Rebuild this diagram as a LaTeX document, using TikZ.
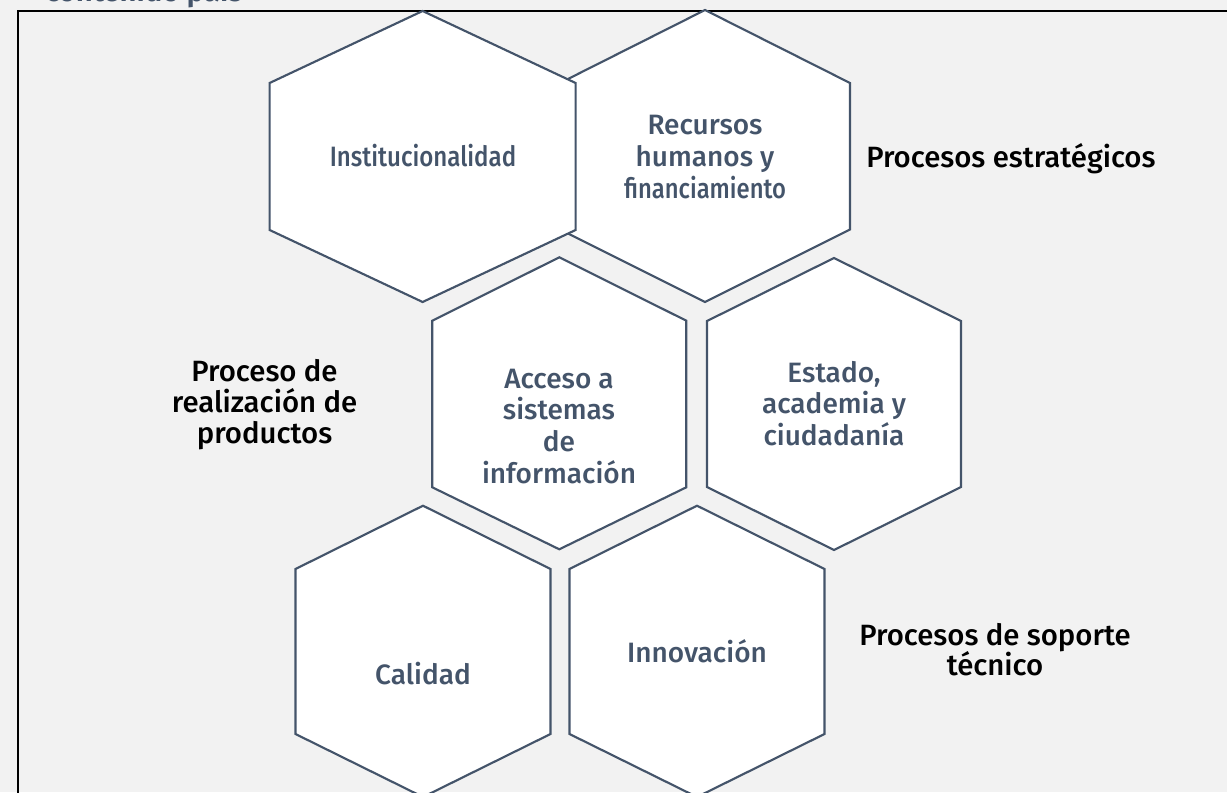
\documentclass[tikz,border=0pt]{standalone}
\usepackage{fontspec}
\setmainfont{Fira Sans}[UprightFont=* Medium, BoldFont=* SemiBold]
\usepackage{xcolor}
\usepackage{tikz}
\usetikzlibrary{positioning}
\definecolor{slate}{HTML}{44546A}
\definecolor{panel}{HTML}{F2F2F2}

\begin{document}
\begin{tikzpicture}[x=0.75pt, y=-0.75pt,
    cell/.style={draw=slate, fill=white, line width=1.6pt, line join=miter},
    celltext/.style={text=slate, align=center, inner sep=0pt, anchor=base, font=\fontsize{21}{23.8}\selectfont},
    side/.style={text=black, align=center, inner sep=0pt, anchor=base, font=\fontsize{22}{23}\selectfont}]
    \useasboundingbox (0,0) rectangle (1227,792);
    \fill[panel] (0,0) rectangle (1227,792);
    \clip (0,0) rectangle (1227,792);

    % Title and frame
    \node [anchor=base west, inner sep=0pt, text=slate, font=\bfseries\fontsize{22}{24}\selectfont] (title) at (45,1.5) {contenido país};
    \draw [line width=1.5pt] (18,10.7) rectangle (1240,800);

    % Strategic processes
    \draw [cell] (705,10) -- (850,83) -- (850,229.5) -- (705,302) -- (560,229.5) -- (560,83) -- cycle;
    \draw [cell] (422.6,11) -- (575.6,83) -- (575.6,230) -- (422.6,302) -- (269.6,230) -- (269.6,83) -- cycle;
    \node [celltext, font=\fontsize{21}{23.8}\selectfont\addfontfeature{FakeStretch=0.86}] (inst) at (423,166.7) {Institucionalidad};
    \node [celltext] (rrhh) at (705,198.4) {Recursos\\humanos y\\{\addfontfeature{FakeStretch=0.85}financiamiento}};
    \node [side, anchor=base west] (estrat) at (866,167) {Procesos estratégicos};

    % Product realization
    \draw [cell] (559.3,257.3) -- (686.3,320.7) -- (686.3,487.3) -- (559.3,549.3) -- (432.3,487.3) -- (432.3,320.7) -- cycle;
    \draw [cell] (834,258) -- (961,321) -- (961,487) -- (834,550) -- (707,487) -- (707,321) -- cycle;
    \node [celltext] (acceso) at (559,483.3) {Acceso a\\sistemas\\de\\información};
    \node [celltext] (estado) at (834,445.5) {Estado,\\academia y\\ciudadanía};
    \node [side] (realiz) at (264.5,443.3) {Proceso de\\realización de\\productos};

    % Technical support
    \draw [cell] (423,505.7) -- (550.5,569) -- (550.5,734) -- (423,797) -- (295.5,734) -- (295.5,569) -- cycle;
    \draw [cell] (697,505.7) -- (824.5,569) -- (824.5,734) -- (697,797) -- (569.5,734) -- (569.5,569) -- cycle;
    \node [celltext] (calidad) at (423,684.3) {Calidad};
    \node [celltext] (innov) at (697,662.3) {Innovación};
    \node [side] (soporte) at (995,675.7) {Procesos de soporte\\técnico};
\end{tikzpicture}
\end{document}
